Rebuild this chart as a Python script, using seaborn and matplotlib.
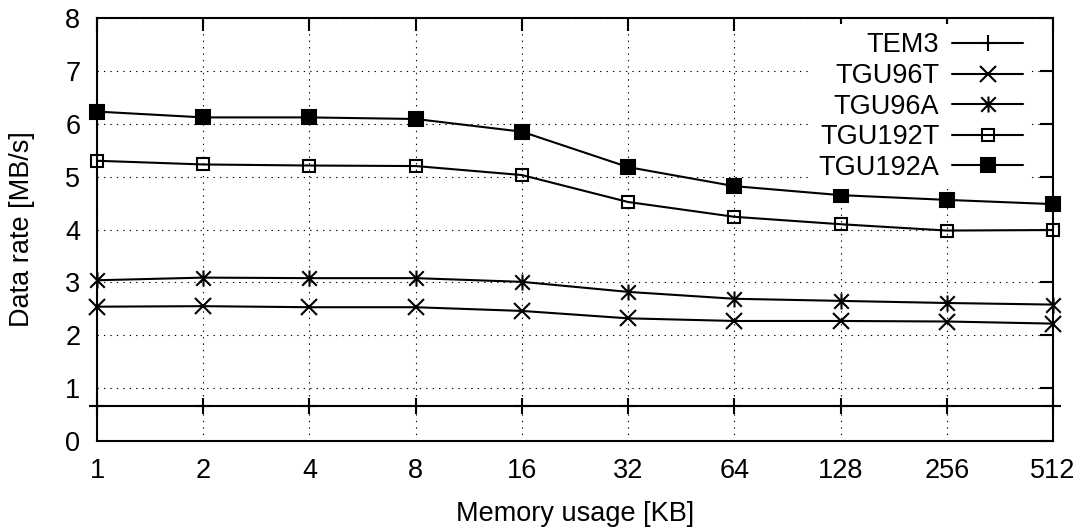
import matplotlib
matplotlib.use("Agg")
import matplotlib.pyplot as plt
from matplotlib.path import Path
from matplotlib.ticker import NullLocator
import seaborn as sns

# memory usage (KB) on a log2 axis
mem = [1, 2, 4, 8, 16, 32, 64, 128, 256, 512]
mem_labels = ["1", "2", "4", "8", "16", "32", "64", "128", "256", "512"]

tem3 = [0.66, 0.66, 0.66, 0.66, 0.66, 0.66, 0.66, 0.66, 0.66, 0.66]
tgu96t = [2.54, 2.55, 2.53, 2.53, 2.46, 2.32, 2.27, 2.27, 2.26, 2.22]
tgu96a = [3.04, 3.09, 3.08, 3.08, 3.01, 2.82, 2.69, 2.65, 2.61, 2.58]
tgu192t = [5.30, 5.23, 5.21, 5.20, 5.03, 4.52, 4.24, 4.10, 3.98, 3.99]
tgu192a = [6.23, 6.12, 6.12, 6.09, 5.85, 5.18, 4.82, 4.65, 4.56, 4.48]

names = ["TEM3", "TGU96T", "TGU96A", "TGU192T", "TGU192A"]
series = [tem3, tgu96t, tgu96a, tgu192t, tgu192a]

sns.set_style("white", rc={"axes.edgecolor": "black", "text.color": "black",
                           "xtick.color": "black", "ytick.color": "black",
                           "axes.labelcolor": "black"})
plt.rcParams["font.family"] = ["Liberation Sans", "DejaVu Sans"]
FS = 19.5

# gnuplot style asterisk: x with a vertical bar
asterisk = Path([(-1, -1), (1, 1), (-1, 1), (1, -1), (0, -1.1), (0, 1.1)],
                [Path.MOVETO, Path.LINETO, Path.MOVETO, Path.LINETO, Path.MOVETO, Path.LINETO])

styles = [
    dict(marker="+", ms=11, mfc="none"),
    dict(marker="x", ms=11, mfc="none"),
    dict(marker=asterisk, ms=11.5, mfc="none"),
    dict(marker="s", ms=9, mfc="none"),
    dict(marker="s", ms=9.5, mfc="black"),
]

fig = plt.figure(figsize=(10.79, 5.30), dpi=100)
ax = fig.add_axes([97 / 1079, 89 / 530, 956 / 1079, 423 / 530])

for name, vals, st in zip(names, series, styles):
    sns.lineplot(x=mem, y=vals, ax=ax, color="black", lw=1.5, mec="black", mew=1.5,
                 label=name, clip_on=False, zorder=3, **st)

ax.set_xscale("log", base=2)
ax.set_xticks(mem)
ax.set_xticklabels(mem_labels)
ax.xaxis.set_minor_locator(NullLocator())
ax.set_xlim(1, 512)
ax.set_ylim(0, 8)
ax.set_yticks(range(0, 9))

ax.tick_params(direction="in", top=True, right=True, length=9.4, width=1.5,
               pad=12, labelsize=FS)
for sp in ax.spines.values():
    sp.set_linewidth(1.5)
    sp.set_color("black")

ax.grid(True, color="black", lw=0.8, linestyle=(0, (1.2, 4.6)))
ax.set_axisbelow(True)

ax.set_xlabel("Memory usage [KB]", fontsize=FS)
ax.set_ylabel("Data rate [MB/s]", fontsize=FS)
ax.xaxis.set_label_coords(0.5, -0.1726)
ax.xaxis.label.set_verticalalignment("center")
ax.yaxis.set_label_coords(-0.078, 0.5)
ax.yaxis.label.set_verticalalignment("center")

leg = ax.legend(loc="upper right", bbox_to_anchor=(0.977, 0.985), borderaxespad=0,
                borderpad=0.3, markerfirst=False, frameon=True, fancybox=False,
                facecolor="white", framealpha=1, fontsize=FS, handlelength=2.6,
                handletextpad=0.48, labelspacing=0.17)
leg.get_frame().set_linewidth(0)
leg.set_zorder(5)

fig.savefig("out.png", dpi=100)
